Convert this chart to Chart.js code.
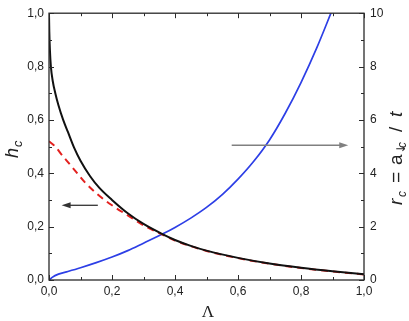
<!DOCTYPE html>
<html>
<head>
<meta charset="utf-8">
<script src="https://cdn.jsdelivr.net/npm/chart.js@4.4.1/dist/chart.umd.min.js"></script>
<style>
  html, body { margin: 0; padding: 0; background: #fff; }
  canvas { display: block; }
</style>
</head>
<body>
<canvas id="chart" width="409" height="321"></canvas>
<script>
// h_c (left axis), black solid
const lambdaBlack = [0, 0.001, 0.003, 0.006, 0.012, 0.02, 0.03, 0.045, 0.06, 0.08, 0.1, 0.13, 0.16, 0.2, 0.25, 0.3, 0.36, 0.4, 0.45, 0.5, 0.6, 0.7, 0.8, 0.9, 1.0];
const hBlack = [1.0, 0.93, 0.86, 0.8, 0.745, 0.7, 0.655, 0.6, 0.555, 0.495, 0.447, 0.39, 0.345, 0.3, 0.25, 0.21, 0.172, 0.15, 0.128, 0.11, 0.083, 0.062, 0.046, 0.033, 0.022];

// h_c approximation (left axis), red dashed
const lambdaRed = [0, 0.02, 0.04, 0.065, 0.09, 0.115, 0.15, 0.2, 0.26, 0.3, 0.36, 0.4, 0.5, 0.6, 0.7, 0.8, 0.9, 1.0];
const hRed = [0.52, 0.5, 0.47, 0.435, 0.4, 0.365, 0.325, 0.28, 0.235, 0.205, 0.17, 0.148, 0.109, 0.082, 0.061, 0.045, 0.032, 0.021];

// r_c (right axis), blue
const lambdaBlue = [0, 0.01, 0.03, 0.06, 0.1, 0.15, 0.2, 0.25, 0.3, 0.36, 0.4, 0.45, 0.5, 0.55, 0.6, 0.65, 0.7, 0.75, 0.8, 0.85, 0.9];
const rBlue = [0, 0.1, 0.22, 0.32, 0.46, 0.65, 0.86, 1.1, 1.38, 1.72, 1.97, 2.32, 2.72, 3.2, 3.78, 4.45, 5.25, 6.25, 7.4, 8.7, 10.15];

// tick positions
const xTicks = [0, 0.1, 0.2, 0.3, 0.4, 0.5, 0.6, 0.7, 0.8, 0.9, 1.0];
const yTicks = [0, 0.1, 0.2, 0.3, 0.4, 0.5, 0.6, 0.7, 0.8, 0.9, 1.0];
const y2Ticks = [0, 1, 2, 3, 4, 5, 6, 7, 8, 9, 10];

const pts = (xs, ys) => xs.map((x, i) => ({ x, y: ys[i] }));
const fmt = v => (Math.round(v * 10) % 2 === 0) ? v.toFixed(1).replace('.', ',') : '';
const tickFont = { family: "'Liberation Sans', Arial, sans-serif", size: 12 };

// axes box, inward ticks, arrows and axis titles
const decor = {
    id: 'decor',
    afterDraw(chart) {
        const { ctx, chartArea: a, scales } = chart;
        const x = scales.x, y = scales.y, y2 = scales.y2;
        ctx.save();
        ctx.strokeStyle = '#2a2a2a';
        ctx.lineWidth = 1.3;
        ctx.strokeRect(a.left, a.top, a.right - a.left, a.bottom - a.top);

        ctx.lineWidth = 1;
        ctx.beginPath();
        xTicks.forEach((v, i) => {
            const px = Math.round(x.getPixelForValue(v)) + 0.5;
            const len = i % 2 === 0 ? 5 : 3;
            ctx.moveTo(px, a.bottom); ctx.lineTo(px, a.bottom - len);
            ctx.moveTo(px, a.top); ctx.lineTo(px, a.top + len);
        });
        yTicks.forEach((v, i) => {
            const py = Math.round(y.getPixelForValue(v)) + 0.5;
            const len = i % 2 === 0 ? 5 : 3;
            ctx.moveTo(a.left, py); ctx.lineTo(a.left + len, py);
        });
        y2Ticks.forEach((v, i) => {
            const py = Math.round(y2.getPixelForValue(v)) + 0.5;
            const len = i % 2 === 0 ? 5 : 3;
            ctx.moveTo(a.right, py); ctx.lineTo(a.right - len, py);
        });
        ctx.stroke();

        // arrows
        const arrow = (x0, x1, py, color) => {
            const dir = Math.sign(x1 - x0);
            ctx.strokeStyle = color; ctx.fillStyle = color; ctx.lineWidth = 1.3;
            ctx.beginPath(); ctx.moveTo(x0, py); ctx.lineTo(x1 - dir * 6, py); ctx.stroke();
            ctx.beginPath();
            ctx.moveTo(x1, py); ctx.lineTo(x1 - dir * 9, py - 3); ctx.lineTo(x1 - dir * 9, py + 3);
            ctx.closePath(); ctx.fill();
        };
        arrow(x.getPixelForValue(0.155), x.getPixelForValue(0.04), y.getPixelForValue(0.28), '#333');
        arrow(x.getPixelForValue(0.58), x.getPixelForValue(0.95), y2.getPixelForValue(5.05), '#808080');

        // x title
        ctx.fillStyle = '#222';
        ctx.font = "17px 'Liberation Serif', 'DejaVu Serif', serif";
        ctx.textAlign = 'center';
        ctx.textBaseline = 'alphabetic';
        ctx.fillText('Λ', 208, 317);

        // left title h_c
        ctx.save();
        ctx.translate(18, 158);
        ctx.rotate(-Math.PI / 2);
        ctx.textAlign = 'left';
        ctx.font = "italic 18px 'Liberation Sans', Arial, sans-serif";
        ctx.fillText('h', 0, 0);
        const hw = ctx.measureText('h').width;
        ctx.font = "italic 13px 'Liberation Sans', Arial, sans-serif";
        ctx.fillText('c', hw + 1, 4);
        ctx.restore();

        // right title r_c = a_↓c / t
        ctx.save();
        ctx.translate(402, 205);
        ctx.rotate(-Math.PI / 2);
        ctx.textAlign = 'left';
        const big = "italic 19px 'Liberation Sans', Arial, sans-serif";
        const upr = "19px 'Liberation Sans', Arial, sans-serif";
        const sub = "italic 12px 'Liberation Sans', Arial, sans-serif";
        const subR = "12px 'DejaVu Sans', sans-serif";
        ctx.font = big; ctx.fillText('r', 0, 0);
        ctx.font = sub; ctx.fillText('c', 8, 4);
        ctx.font = upr; ctx.fillText('=', 22, 0);
        ctx.font = upr; ctx.fillText('a', 40, 0);
        ctx.font = subR; ctx.fillText('↓', 51, 3);
        ctx.font = sub; ctx.fillText('c', 57, 4);
        ctx.font = upr; ctx.fillText('/', 73, 0);
        ctx.font = big; ctx.fillText('t', 88, 0);
        ctx.restore();

        ctx.restore();
    }
};

new Chart(document.getElementById('chart'), {
    type: 'line',
    data: {
        datasets: [
            {
                data: pts(lambdaBlack, hBlack), yAxisID: 'y',
                borderColor: '#111', borderWidth: 2, pointRadius: 0,
                cubicInterpolationMode: 'monotone', fill: false
            },
            {
                data: pts(lambdaRed, hRed), yAxisID: 'y',
                borderColor: '#e3211f', borderWidth: 2, borderDash: [7, 5], pointRadius: 0,
                cubicInterpolationMode: 'monotone', fill: false
            },
            {
                data: pts(lambdaBlue, rBlue), yAxisID: 'y2',
                borderColor: '#2d3fe6', borderWidth: 1.7, pointRadius: 0,
                cubicInterpolationMode: 'monotone', fill: false
            }
        ]
    },
    options: {
        responsive: false,
        devicePixelRatio: 1,
        animation: false,
        layout: { padding: { top: 13, left: 0, right: 0, bottom: 0 } },
        plugins: { legend: { display: false }, tooltip: { enabled: false } },
        scales: {
            x: {
                type: 'linear', position: 'bottom', min: 0, max: 1,
                grid: { display: false, drawTicks: false },
                border: { display: false },
                ticks: {
                    stepSize: 0.1, autoSkip: false, maxRotation: 0, padding: 4,
                    color: '#222', font: tickFont, callback: fmt
                },
                afterFit: s => { s.height = 41; }
            },
            y: {
                type: 'linear', position: 'left', min: 0, max: 1,
                grid: { display: false, drawTicks: false },
                border: { display: false },
                ticks: {
                    stepSize: 0.1, autoSkip: false, padding: 5,
                    color: '#222', font: tickFont, callback: fmt
                },
                afterFit: s => { s.width = 49; }
            },
            y2: {
                type: 'linear', position: 'right', min: 0, max: 10,
                grid: { display: false, drawTicks: false },
                border: { display: false },
                ticks: {
                    stepSize: 1, autoSkip: false, padding: 6,
                    color: '#222', font: tickFont,
                    callback: v => (v % 2 === 0 ? String(v) : '')
                },
                afterFit: s => { s.width = 45; }
            }
        }
    },
    plugins: [decor]
});
</script>
</body>
</html>
